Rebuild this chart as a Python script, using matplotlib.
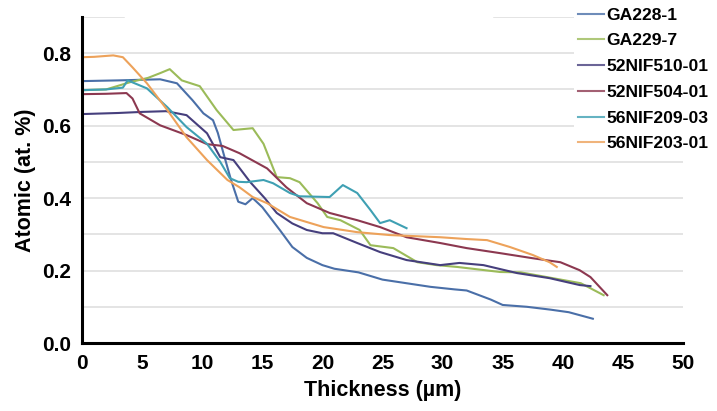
import matplotlib
matplotlib.use('Agg')
import matplotlib.pyplot as plt
import numpy as np


# sample names and colours
names = ['GA228-1', 'GA229-7', '52NIF510-01', '52NIF504-01', '56NIF209-03', '56NIF203-01']
colors = ['#4a6fa8', '#9bbb59', '#463f7d', '#8c3850', '#3fa0b3', '#eda25a']

# GA228-1
ga228_x = [0, 3, 6.5, 7.9, 9.2, 10.1, 10.9, 11.3, 11.8, 12.4, 13.0, 13.6, 14.2, 15.0, 16.5, 17.5, 18.7, 20, 21, 23, 25,
           27, 29, 31, 32, 34, 35, 37, 39, 40.5, 42.5]
ga228_y = [0.723, 0.725, 0.728, 0.717, 0.67, 0.634, 0.615, 0.58, 0.52, 0.45, 0.39, 0.383, 0.40, 0.375, 0.31, 0.265,
           0.235, 0.215, 0.205, 0.195, 0.175, 0.165, 0.155, 0.148, 0.145, 0.12, 0.105, 0.10, 0.092, 0.085, 0.067]

# GA229-7
ga229_x = [0, 2, 4, 5.5, 6.5, 7.3, 8.3, 9.8, 11.2, 12.6, 14.2, 15.1, 16.2, 17.3, 18.1, 19.6, 20.4, 21.5, 23.1, 24,
           25.9, 27.9, 29.5, 31.2, 34.8, 36.5, 39, 41.5, 43.4]
ga229_y = [0.698, 0.70, 0.72, 0.732, 0.745, 0.756, 0.725, 0.709, 0.643, 0.588, 0.593, 0.55, 0.458, 0.455, 0.444,
           0.386, 0.348, 0.339, 0.312, 0.27, 0.262, 0.223, 0.215, 0.21, 0.196, 0.195, 0.18, 0.165, 0.132]

# 52NIF510-01
n510_x = [0, 3, 5, 7, 8.7, 10.4, 11.5, 12.6, 14, 15.2, 16.2, 17.5, 18.7, 20, 20.9, 22.9, 24.8, 27, 29.8, 31.4, 33.4,
          36.2, 38.9, 41.4, 42.3]
n510_y = [0.632, 0.635, 0.638, 0.64, 0.629, 0.579, 0.513, 0.505, 0.444, 0.40, 0.359, 0.33, 0.312, 0.303, 0.303,
          0.276, 0.251, 0.229, 0.215, 0.221, 0.215, 0.193, 0.179, 0.16, 0.157]

# 52NIF504-01
n504_x = [0, 2, 3.7, 4.2, 4.8, 6.5, 8.7, 10.4, 11.7, 13.1, 15.4, 17, 18.7, 20.6, 22.9, 24.8, 27, 29.8, 32, 34.8,
          37.5, 39.8, 41.4, 42.3, 43.7]
n504_y = [0.687, 0.688, 0.69, 0.675, 0.634, 0.601, 0.574, 0.549, 0.544, 0.524, 0.482, 0.43, 0.386, 0.359, 0.339,
          0.32, 0.292, 0.276, 0.262, 0.248, 0.234, 0.223, 0.201, 0.182, 0.132]

# 56NIF209-03
n209_x = [0, 2, 3.4, 3.8, 5.4, 7.1, 8.7, 10.4, 11.5, 12.3, 13.0, 13.7, 15.1, 15.9, 17.3, 18.1, 20.6, 21.7, 22.9,
          24, 24.8, 25.6, 27]
n209_y = [0.698, 0.70, 0.705, 0.725, 0.703, 0.651, 0.596, 0.55, 0.50, 0.455, 0.445, 0.444, 0.45, 0.441, 0.414,
          0.405, 0.403, 0.436, 0.414, 0.367, 0.331, 0.339, 0.317]

# 56NIF203-01
n203_x = [0, 1, 2.6, 3.4, 4.2, 5.4, 7.1, 8.7, 10.4, 12.1, 13.1, 14.2, 15.4, 17.3, 20.1, 22.9, 25.6, 29.8, 32, 33.7,
          35.6, 37.5, 38.9, 39.5]
n203_y = [0.789, 0.79, 0.794, 0.789, 0.761, 0.717, 0.643, 0.568, 0.505, 0.45, 0.43, 0.403, 0.386, 0.348, 0.32,
          0.306, 0.298, 0.292, 0.287, 0.284, 0.265, 0.243, 0.223, 0.21]

xs = [ga228_x, ga229_x, n510_x, n504_x, n209_x, n203_x]
ys = [ga228_y, ga229_y, n510_y, n504_y, n209_y, n203_y]

x_ticks = [0, 5, 10, 15, 20, 25, 30, 35, 40, 45, 50]
y_ticks = [0.0, 0.2, 0.4, 0.6, 0.8]


plt.rcParams['font.family'] = ['Liberation Sans', 'DejaVu Sans']
plt.rcParams['font.weight'] = 'bold'

fig = plt.figure(figsize=(7.17, 4.11), dpi=100)
ax = fig.add_axes([82 / 717, 1 - 343 / 411, (683 - 82) / 717, (343 - 17) / 411])

# gridlines every 0.1
for g in np.arange(0.1, 0.85, 0.1):
    ax.axhline(g, color='#dcdcdc', lw=1.1, zorder=0)
ax.axhline(0.9, xmin=0, xmax=0.07, color='#dcdcdc', lw=1.1, zorder=0)
ax.axhline(0.9, xmin=0.685, xmax=0.82, color='#dcdcdc', lw=1.1, zorder=0)

for x, y, c, n in zip(xs, ys, colors, names):
    ax.plot(x, y, color=c, lw=1.5, label=n)

ax.set_xlim(0, 50)
ax.set_ylim(0, 0.9)
ax.set_xticks(x_ticks)
ax.set_yticks(y_ticks)
ax.set_yticklabels(['{:.1f}'.format(v) for v in y_ticks])
ax.tick_params(length=0, labelsize=15, pad=8)

for s in ['top', 'right']:
    ax.spines[s].set_visible(False)
ax.spines['left'].set_linewidth(2.2)
ax.spines['bottom'].set_linewidth(2.2)

ax.set_xlabel('Thickness (µm)', fontsize=15.5, fontweight='bold', labelpad=5)
ax.set_ylabel('Atomic (at. %)', fontsize=15.5, fontweight='bold', labelpad=4)

leg = fig.legend(loc='upper left', bbox_to_anchor=(574 / 717, 1 - 4 / 411), fontsize=12.6,
                 frameon=True, facecolor='white', edgecolor='none', framealpha=1,
                 handlelength=1.5, handletextpad=0.15, labelspacing=0.6, borderaxespad=0,
                 borderpad=0.2)
for h in leg.get_lines():
    h.set_linewidth(1.5)
    h.set_alpha(0.8)

fig.savefig('out.png', dpi=100)
